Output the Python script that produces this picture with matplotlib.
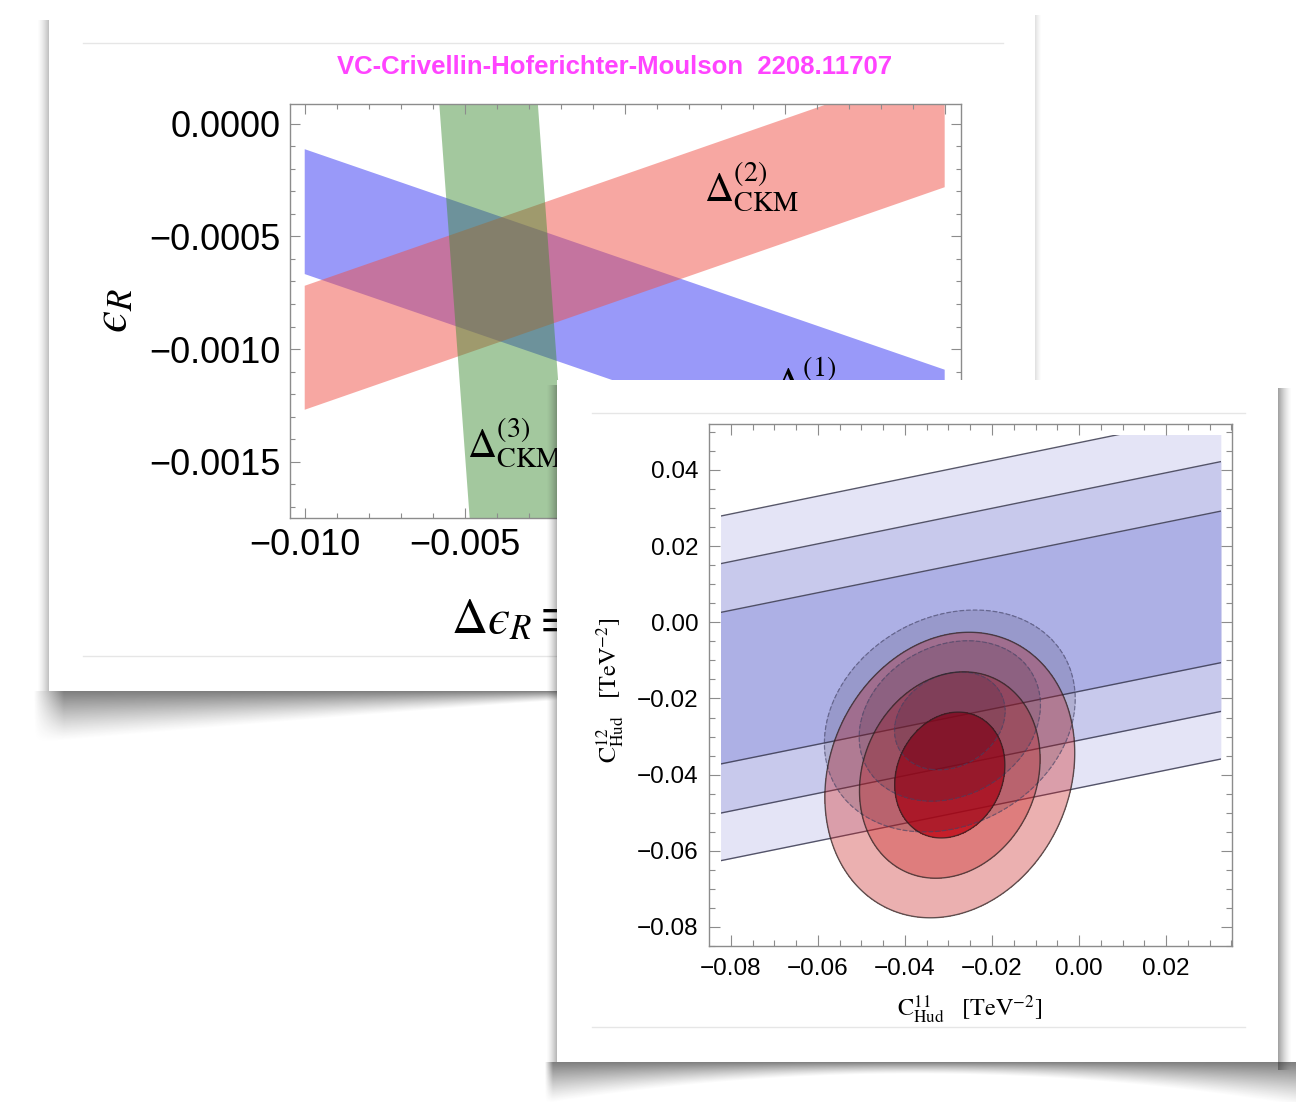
import numpy as np
import matplotlib
matplotlib.use('Agg')
import matplotlib.pyplot as plt
from matplotlib.patches import Rectangle
from matplotlib.ticker import MultipleLocator, FuncFormatter

plt.rcParams['mathtext.fontset'] = 'stix'
plt.rcParams['font.family'] = ['Liberation Sans', 'DejaVu Sans']

# ---- back panel: epsilon_R vs Delta epsilon_R bands ----
band_x = [-0.010, 0.010]
blue_lo = [-0.000667, -0.001647]
blue_hi = [-0.000112, -0.001092]
red_lo = [-0.001270, -0.000281]
red_hi = [-0.000719, 0.000270]
green_y = [0.0001, -0.0018]
green_lo = [-0.00580, -0.00482]
green_hi = [-0.00272, -0.00174]
back_labels = [r'$\Delta^{(1)}_{\mathrm{CKM}}$', r'$\Delta^{(2)}_{\mathrm{CKM}}$', r'$\Delta^{(3)}_{\mathrm{CKM}}$']
back_label_x = [0.00462, 0.00247, -0.00492]
back_label_y = [-0.001148, -0.000282, -0.001419]
back_xlabels_shown = [-0.010, -0.005]   # the rest sits under the front card

# ---- front panel: C11 vs C12 ----
c_x = [-0.0824, 0.0326]
c_top = 0.0493
outer_lo = [-0.0626, -0.0359]
outer_hi = [0.0279, 0.0548]
mid_lo = [-0.0501, -0.0234]
mid_hi = [0.0154, 0.0422]
inner_lo = [-0.0372, -0.0106]
inner_hi = [0.0026, 0.0292]
fit_center = [-0.0297, -0.0401]
fit_sigma = [0.00835, 0.0109]
fit_rho = 0.155
alt_center = [-0.0297, -0.0259]
alt_sigma = [0.00838, 0.00847]
alt_rho = 0.20
chi2_levels = [2.30, 6.18, 11.83]

title = 'VC-Crivellin-Hoferichter-Moulson  2208.11707'
eps = '\u03f5'   # lunate epsilon

W, H = 1301, 1102
fig = plt.figure(figsize=(W / 100, H / 100), dpi=100)


def px_axes(left, top, right, bottom):
    return fig.add_axes([left / W, 1 - bottom / H, (right - left) / W, (bottom - top) / H])


def overlay(z):
    ax = fig.add_axes([0, 0, 1, 1])
    ax.set_zorder(z)
    ax.axis('off')
    return ax


def reset(ax):
    ax.set_xlim(0, W)
    ax.set_ylim(H, 0)


def bottom_shadow(ax, x0, x1, y0, depth, amax, fade=(0, 0)):
    xs = np.arange(x0, x1) + 0.5
    d = depth(xs)
    h = int(np.ceil(d.max())) + 1
    ys = np.arange(h) + 0.5
    t = ys[:, None] / d[None, :]
    a = amax * np.clip(1 - t, 0, 1) ** 1.2
    if fade[0]:
        a *= np.clip((xs - x0) / fade[0], 0, 1)[None, :]
    if fade[1]:
        a *= np.clip((x1 - xs) / fade[1], 0, 1)[None, :]
    img = np.zeros((h, len(xs), 4))
    img[..., :3] = 0.15
    img[..., 3] = a
    ax.imshow(img, extent=(x0, x1, y0 + h, y0), aspect='auto', interpolation='bilinear')


def side_shadow(ax, x_edge, width, y0, y1, amax, side):
    t = (np.arange(width) + 0.5) / width
    row = amax * (1 - t) ** 1.5
    if side < 0:
        row = row[::-1]
        ext = (x_edge - width, x_edge, y1, y0)
    else:
        ext = (x_edge, x_edge + width, y1, y0)
    img = np.zeros((2, width, 4))
    img[..., :3] = 0.15
    img[..., 3] = row
    ax.imshow(img, extent=ext, aspect='auto', interpolation='bilinear')


def fmt(nd, shown=None):
    def f(v, pos):
        if abs(v) < 1e-12:
            v = 0.0
        if shown is not None and not any(abs(v - s) < 1e-9 for s in shown):
            return ''
        return f'{v:.{nd}f}'.replace('-', '\u2212')
    return FuncFormatter(f)


def style(ax, fs, xmaj, xmin, ymaj, ymin, xnd, ynd, L, pad, xshown=None):
    for s in ax.spines.values():
        s.set_color('#8c8c8c')
        s.set_linewidth(1.0)
    ax.xaxis.set_major_locator(MultipleLocator(xmaj))
    ax.xaxis.set_minor_locator(MultipleLocator(xmin))
    ax.yaxis.set_major_locator(MultipleLocator(ymaj))
    ax.yaxis.set_minor_locator(MultipleLocator(ymin))
    ax.xaxis.set_major_formatter(fmt(xnd, xshown))
    ax.yaxis.set_major_formatter(fmt(ynd))
    ax.tick_params(which='both', direction='in', top=True, right=True,
                   color='#8c8c8c', width=0.8, labelsize=fs, pad=pad)
    ax.tick_params(which='major', length=L)
    ax.tick_params(which='minor', length=L * 0.55)


# ---- background layer: back card ----
bg = overlay(0)
bottom_shadow(bg, 34, 1040, 691,
              lambda x: 7 + 45 * np.clip((600 - x) / 560, 0, 1) ** 1.1, 0.6, fade=(30, 0))
side_shadow(bg, 49, 12, 20, 691, 0.3, -1)
side_shadow(bg, 1035, 7, 15, 691, 0.15, 1)
bg.add_patch(Rectangle((49, 12), 1035 - 49, 691 - 12, fc='white', ec='none', zorder=3))
bg.plot([83, 1003], [43, 43], color='#e6e6e6', lw=1, zorder=4)
bg.plot([83, 1003], [656, 656], color='#e6e6e6', lw=1, zorder=4)
bg.text(615, 67, title, color='#ff44ff', fontsize=18.5, fontweight='bold',
        ha='center', va='center', zorder=5)
reset(bg)

# ---- back plot ----
ax1 = px_axes(290, 104, 961, 518)
ax1.set_zorder(1)
ax1.fill([band_x[0], band_x[1], band_x[1], band_x[0]],
         [blue_lo[0], blue_lo[1], blue_hi[1], blue_hi[0]],
         color='#0000f0', alpha=0.4, lw=0)
ax1.fill([band_x[0], band_x[1], band_x[1], band_x[0]],
         [red_lo[0], red_lo[1], red_hi[1], red_hi[0]],
         color='#f05046', alpha=0.5, lw=0)
ax1.fill([green_lo[0], green_hi[0], green_hi[1], green_lo[1]],
         [green_y[0], green_y[0], green_y[1], green_y[1]],
         color='#3c8c32', alpha=0.47, lw=0)
for s, x, y in zip(back_labels, back_label_x, back_label_y):
    ax1.text(x, y, s, fontsize=29, ha='left', va='center')
ax1.set_xlim(-0.01046, 0.01051)
ax1.set_ylim(-0.001751, 0.0000888)
style(ax1, 26, 0.005, 0.001, 0.0005, 0.0001, 3, 4, 7, 7, xshown=back_xlabels_shown)
ax1.text(113, 311, '$' + eps + '_R$', transform=bg.transData, rotation=90,
         fontsize=36, ha='center', va='center')
ax1.text(451, 620, r'$\Delta' + eps + r'_R\equiv$', transform=bg.transData,
         fontsize=36, ha='left', va='center')

# ---- middle layer: front card ----
mid = overlay(2)
bottom_shadow(mid, 545, 1296, 1062,
              lambda x: 12 + 30 * ((x - 915) / 370) ** 2, 0.6, fade=(8, 0))
side_shadow(mid, 557, 11, 385, 1062, 0.35, -1)
side_shadow(mid, 1278, 14, 388, 1070, 0.45, 1)
mid.add_patch(Rectangle((557, 380), 1278 - 557, 1062 - 380, fc='white', ec='none', zorder=3))
mid.plot([592, 1245], [413, 413], color='#e6e6e6', lw=1, zorder=4)
mid.plot([592, 1245], [1027, 1027], color='#e6e6e6', lw=1, zorder=4)
mid.text(611, 690, r'$\mathrm{C}^{12}_{\mathrm{Hud}}\quad[\mathrm{TeV}^{-2}]$',
         rotation=90, fontsize=17.5, ha='center', va='center', zorder=5)
mid.text(970, 1010, r'$\mathrm{C}^{11}_{\mathrm{Hud}}\quad[\mathrm{TeV}^{-2}]$',
         fontsize=17.5, ha='center', va='center', zorder=5)
reset(mid)

# ---- front plot ----
ax2 = px_axes(709.5, 424.3, 1232, 946.4)
ax2.set_zorder(3)
clip = Rectangle((c_x[0], -0.2), c_x[1] - c_x[0], c_top + 0.2, transform=ax2.transData)
band_cols = ['#e4e4f6', '#c8c9ec', '#adb0e5']
for lo, hi, col in zip([outer_lo, mid_lo, inner_lo], [outer_hi, mid_hi, inner_hi], band_cols):
    p = ax2.fill_between(c_x, lo, hi, color=col, lw=0, zorder=1)
    p.set_clip_path(clip)
    for ln in (lo, hi):
        l, = ax2.plot(c_x, ln, color='#3a3a50', lw=1.0, alpha=0.85, zorder=2)
        l.set_clip_path(clip)

xg = np.linspace(-0.085, 0.036, 600)
yg = np.linspace(-0.086, 0.053, 600)
X, Y = np.meshgrid(xg, yg)


def chi2(center, sigma, rho):
    dx = (X - center[0]) / sigma[0]
    dy = (Y - center[1]) / sigma[1]
    return (dx * dx - 2 * rho * dx * dy + dy * dy) / (1 - rho ** 2)


c_fit = chi2(fit_center, fit_sigma, fit_rho)
c_alt = chi2(alt_center, alt_sigma, alt_rho)
red_cols = ['#c81e1e', '#c81e1e', '#be000f']
red_alpha = [0.35, 0.35, 0.75]
for lev, col, a in zip(chi2_levels[::-1], red_cols, red_alpha):
    ax2.contourf(X, Y, c_fit, levels=[0, lev], colors=[col], alpha=a, zorder=3)
for lev in chi2_levels[::-1]:
    ax2.contourf(X, Y, c_alt, levels=[0, lev], colors=['#1e1432'], alpha=0.14, zorder=4)
ax2.contour(X, Y, c_alt, levels=chi2_levels, colors='#444466', linewidths=0.9,
            linestyles='dashed', alpha=0.6, zorder=5)
ax2.contour(X, Y, c_fit, levels=chi2_levels, colors='#222222', linewidths=1.0,
            alpha=0.7, zorder=5)
ax2.set_xlim(-0.08494, 0.03517)
ax2.set_ylim(-0.0851, 0.0520)
style(ax2, 17.5, 0.02, 0.005, 0.02, 0.005, 2, 2, 8, 8)

fig.savefig('out.png', dpi=100)
